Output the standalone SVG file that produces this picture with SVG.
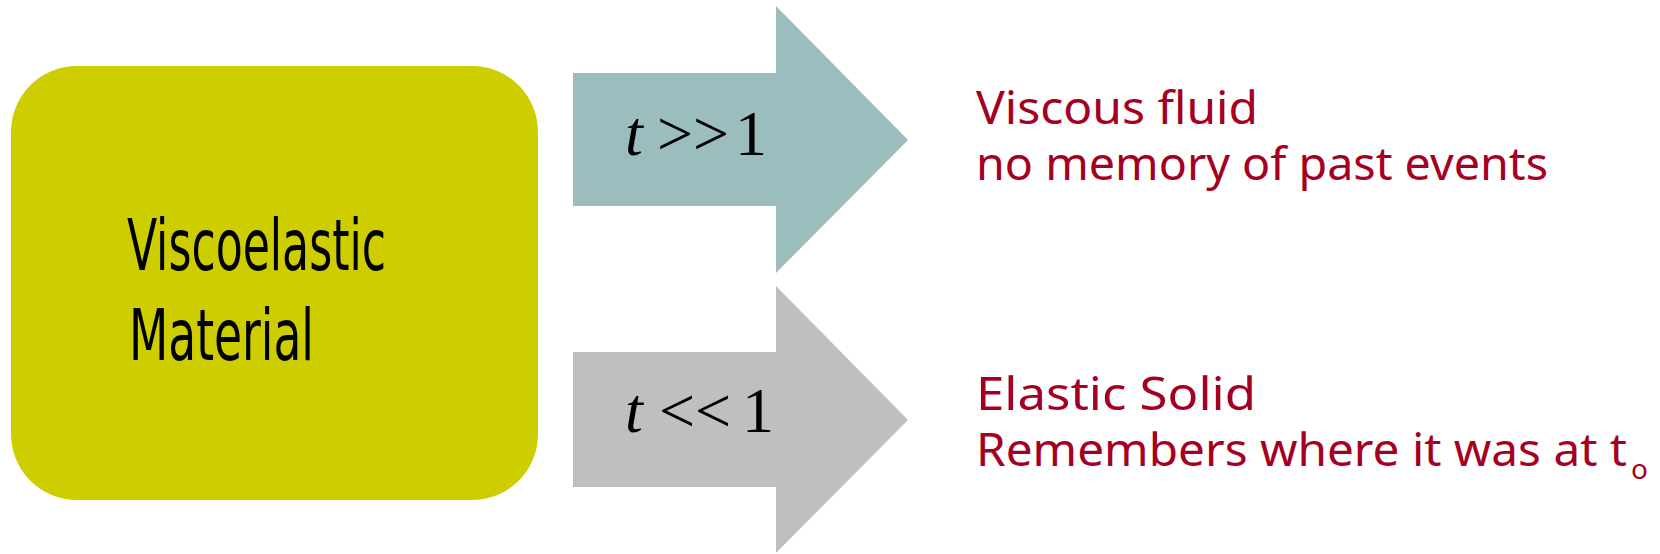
<svg xmlns="http://www.w3.org/2000/svg" width="1660" height="554" viewBox="0 0 1660 554">
<style>
.lbl{font-family:"Liberation Sans Narrow","DejaVu Sans Condensed","Liberation Sans",sans-serif;font-size:72px;fill:#000}
.math{font-family:"Liberation Serif","Times New Roman",serif;font-size:64px;fill:#000}
.red{font-family:"Comic Sans MS","Noto Sans","Liberation Sans",sans-serif;font-size:46px;fill:#A50021}
</style>
<rect width="1660" height="554" fill="#fff"/>
<g id="material">
<rect x="11" y="66" width="527" height="434" rx="66" ry="66" fill="#CDCD00"/>
<text class="lbl" x="127" y="270" textLength="259" lengthAdjust="spacingAndGlyphs">Viscoelastic</text>
<text class="lbl" x="129" y="360" textLength="185" lengthAdjust="spacingAndGlyphs">Material</text>
</g>
<g id="connectors">
<g id="arrow-long">
<polygon points="573,73 776,73 776,6 908,140 776,273 776,206 573,206" fill="#9BBDBE"/>
<text class="math" y="155"><tspan x="625" font-style="italic">t</tspan><tspan x="657">&gt;&gt;</tspan><tspan x="735">1</tspan></text>
</g>
<g id="arrow-short">
<polygon points="573,352 776,352 776,286 908,420 776,553 776,487 573,487" fill="#BFBFBF"/>
<text class="math" y="432"><tspan x="625" font-style="italic">t</tspan><tspan x="659">&lt;&lt;</tspan><tspan x="742">1</tspan></text>
</g>
</g>
<g id="viscous">
<text class="red" x="976" y="124" textLength="282" lengthAdjust="spacingAndGlyphs">Viscous fluid</text>
<text class="red" x="976" y="180" textLength="572" lengthAdjust="spacingAndGlyphs">no memory of past events</text>
</g>
<g id="elastic">
<text class="red" x="976" y="410" textLength="280" lengthAdjust="spacingAndGlyphs">Elastic Solid</text>
<text class="red" x="976" y="466"><tspan textLength="651" lengthAdjust="spacingAndGlyphs">Remembers where it was at t</tspan><tspan x="1631" y="479" font-size="28">o</tspan></text>
</g>
</svg>
